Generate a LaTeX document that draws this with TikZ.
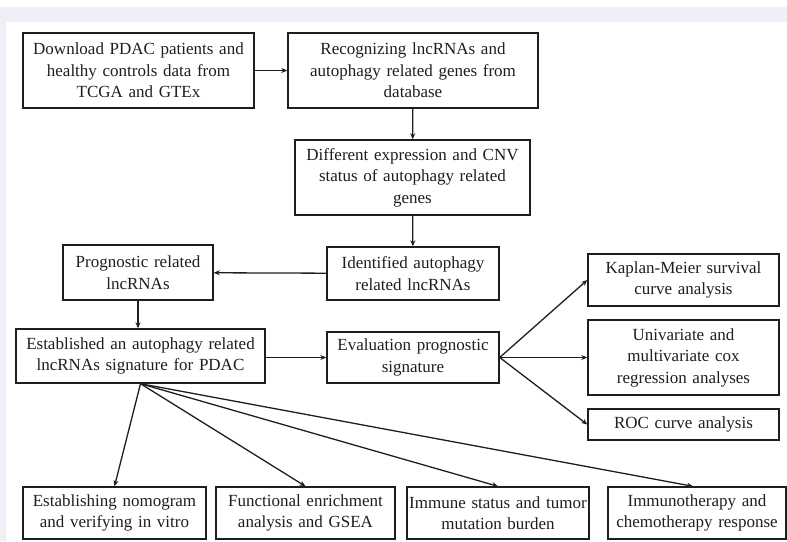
\documentclass[tikz,border=0pt]{standalone}
\usepackage{fontspec}
\setmainfont{Liberation Serif}
\usetikzlibrary{arrows.meta}
\definecolor{panelgray}{RGB}{239,240,245}
\definecolor{ink}{RGB}{30,30,30}
\tikzset{
	box/.style={draw=ink,text=ink,line width=1.4pt,inner xsep=1pt,inner ysep=3pt,align=center,
		font=\fontsize{17}{21.5}\selectfont},
	link/.style={draw=ink,line width=1.3pt,-{Stealth[length=6pt,width=5pt]}}
}
\begin{document}
\begin{tikzpicture}[x=1pt,y=-1pt]
	\useasboundingbox (0,0) rectangle (787,541);
	\fill[panelgray] (0,7) rectangle (787,22) (0,22) rectangle (6,541);
	% main chain
	\node[box,text width=229,minimum height=75] (dl) at (138.5,70.5) {Download PDAC patients and\\healthy controls data from\\TCGA and GTEx};
	\node[box,text width=248,minimum height=75] (rec) at (413,70.5) {Recognizing lncRNAs and\\autophagy related genes from\\database};
	\node[box,text width=233,minimum height=75] (cnv) at (412.5,177.5) {Different expression and CNV\\status of autophagy related\\genes};
	\node[box,text width=170,minimum height=53] (ident) at (413,273.5) {Identified autophagy\\related lncRNAs};
	\node[box,text width=148,minimum height=55] (prog) at (138,272.5) {Prognostic related\\lncRNAs};
	\node[box,text width=247,minimum height=54] (sig) at (140.5,356) {Established an autophagy related\\lncRNAs signature for PDAC};
	\node[box,text width=170,minimum height=51] (eval) at (413,357.5) {Evaluation prognostic\\signature};
	% evaluation
	\node[box,text width=189,minimum height=52] (km) at (683.5,280) {Kaplan-Meier survival\\curve analysis};
	\node[box,text width=189,minimum height=75] (cox) at (683.5,357.5) {Univariate and\\multivariate cox\\regression analyses};
	\node[box,text width=189,minimum height=31] (roc) at (683.5,424.5) {ROC curve analysis};
	% bottom row
	\node[box,text width=181,minimum height=52] (nomo) at (114.5,513) {Establishing nomogram\\and verifying in vitro};
	\node[box,text width=177,minimum height=52] (gsea) at (305.5,513) {Functional enrichment\\analysis and GSEA};
	\node[box,text width=180,minimum height=52] (immu) at (498,513) {Immune status and tumor\\mutation burden};
	\node[box,text width=176,minimum height=52] (resp) at (697,513) {Immunotherapy and\\chemotherapy response};
	\draw[link] (dl) -- (rec);
	\draw[link] (rec) -- (cnv);
	\draw[link] (cnv) -- (ident);
	\draw[link] (ident) -- (prog);
	\draw[link] (prog.south) -- (prog.south |- sig.north);
	\draw[link] (sig.east |- eval.west) -- (eval.west);
	\foreach \t in {km,cox,roc}
	\draw[link] (eval.east) -- (\t.west);
	\foreach \t in {nomo,gsea,immu}
	\draw[link] (sig.south) -- (\t.north);
	\draw[link] (sig.south) -- ([xshift=-4pt]resp.north);
\end{tikzpicture}
\end{document}
